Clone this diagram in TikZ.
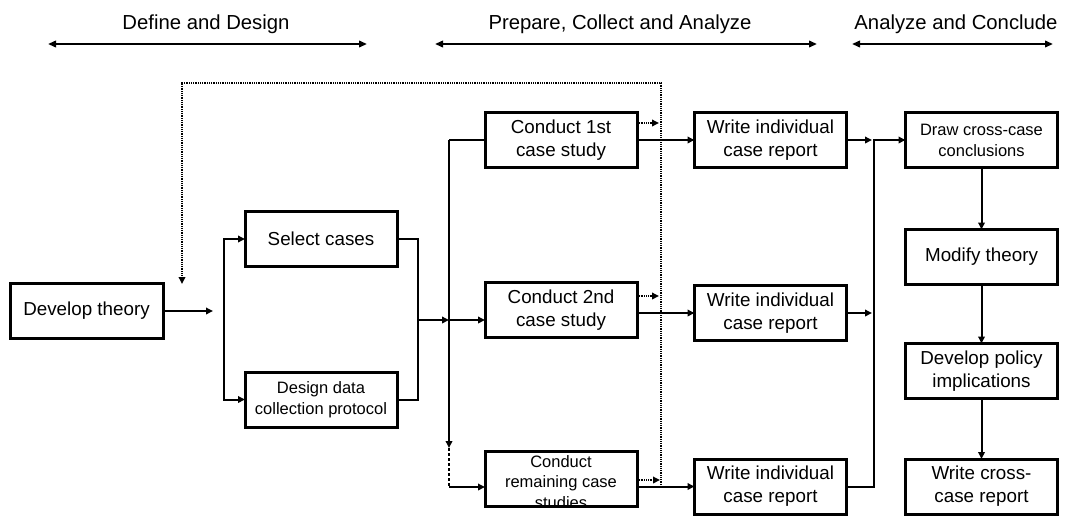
\documentclass[tikz,border=0pt]{standalone}
\usepackage{fontspec}
\setmainfont{Liberation Sans}
\usetikzlibrary{arrows.meta}
\begin{document}
\begin{tikzpicture}[x=1pt,y=-1pt,
  box/.style={draw, line width=3pt, fill=white, minimum width=152pt, minimum height=55pt,
    inner sep=0pt, outer sep=0pt, align=center, font=\fontsize{18.8}{23}\selectfont},
  smallbox/.style={box, font=\fontsize{16.5}{21}\selectfont},
  tip/.tip={Triangle[length=7pt,width=6.5pt]},
  conn/.style={line width=2pt, -tip},
  plain/.style={line width=2pt},
  dots/.style={line width=2pt, dash pattern=on 0.9pt off 0.9pt},
  dotarrow/.style={dots, -tip},
  head/.style={font=\fontsize{20.3}{24}\selectfont, inner sep=0pt},
  harrow/.style={line width=2pt, {Triangle[length=8pt,width=6.5pt]}-{Triangle[length=8pt,width=6.5pt]}}
]
\useasboundingbox (0,0) rectangle (1078,515);

% headers
\node[head] (h1) at (206,24) {Define and Design};
\node[head] (h2) at (620,24) {Prepare, Collect and Analyze};
\node[head] (h3) at (956,24) {Analyze and Conclude};
\coordinate (a1l) at (48,44);  \coordinate (a1r) at (367,44);
\coordinate (a2l) at (435,44); \coordinate (a2r) at (817,44);
\coordinate (a3l) at (852,44); \coordinate (a3r) at (1053,44);
\draw[harrow] (a1l) -- (a1r);
\draw[harrow] (a2l) -- (a2r);
\draw[harrow] (a3l) -- (a3r);

% boxes
\node[box, minimum width=153pt] (dev) at (86.5,311) {Develop theory};
\node[box] (sel) at (321,239) {Select cases};
\node[smallbox] (des) at (321,399.5) {Design data\\collection protocol};
\node[box] (c1) at (561,140) {Conduct 1st\\case study};
\node[box] (c2) at (561,310) {Conduct 2nd\\case study};
\node[box, draw=none] (cr) at (561,479) {};
\begin{scope}
  \clip ([shift={(1.5,1.5)}]cr.north west) rectangle ([shift={(-1.5,-1.5)}]cr.south east);
  \node[font=\fontsize{16.5}{20.5}\selectfont, align=center, inner sep=0pt] (crt) at ([yshift=-3pt]cr.center) {Conduct\\remaining case\\studies};
\end{scope}
\draw[line width=3pt] (cr.north west) rectangle (cr.south east);
\node[box] (w1) at (770.5,140) {Write individual\\case report};
\node[box] (w2) at (770.5,313) {Write individual\\case report};
\node[box] (w3) at (770.5,486.5) {Write individual\\case report};
\node[smallbox] (dr) at (981.5,140) {Draw cross-case\\conclusions};
\node[box] (mo) at (981.5,257) {Modify theory};
\node[box] (po) at (981.5,371) {Develop policy\\implications};
\node[box] (wc) at (981.5,486.5) {Write cross-\\case report};

% left part
\coordinate (j0) at (213,311);
\draw[conn] (dev.east) -- (j0);
\coordinate (bl) at (224,320);
\draw[conn] (bl) |- (sel.west);
\draw[conn] (bl) |- (des.west);
\coordinate (br) at (418,320);
\draw[plain] (sel.east) -| (br);
\draw[plain] (des.east) -| (br);
\coordinate (jm) at (449,320);
\draw[conn] (br) -- (jm);
\draw[conn] (jm) -- (c2.west |- jm);
\coordinate (vt) at (449,140);
\coordinate (vb) at (449,448);
\coordinate (vr) at (449,487);
\draw[plain] (c1.west) -- (vt);
\draw[conn] (vt) -- (vb);
\draw[plain, dash pattern=on 3pt off 2pt] (vb) -- (vr);
\draw[conn] (vr) -- (cr.west |- vr);

% conduct -> write
\draw[conn] (c1.east) -- (w1.west);
\draw[conn] (c2.east |- w2.west) -- (w2.west);
\draw[conn] (cr.east |- w3.west) -- (w3.west);

% dotted feedback
\coordinate (d1) at (659,123);
\coordinate (d2) at (659,296);
\coordinate (d3) at (660,480);
\draw[dotarrow] (c1.east |- d1) -- (d1);
\draw[dotarrow] (c2.east |- d2) -- (d2);
\draw[dotarrow] (cr.east |- d3) -- (d3);
\coordinate (dbot) at (661,485);
\coordinate (dtop) at (661,83);
\coordinate (dl) at (182,83);
\coordinate (dend) at (182,284);
\draw[dotarrow] (dbot) -- (dtop) -- (dl) -- (dend);

% write -> cross-case
\coordinate (r1) at (872,140);
\coordinate (r2) at (872,313);
\draw[conn] (w1.east) -- (r1);
\draw[conn] (w2.east) -- (r2);
\coordinate (rt) at (874,140);
\draw[conn] (w3.east) -| (rt) -- (dr.west);

% right column
\draw[conn] (dr) -- (mo);
\draw[conn] (mo) -- (po);
\draw[conn] (po) -- (wc);
\end{tikzpicture}
\end{document}
